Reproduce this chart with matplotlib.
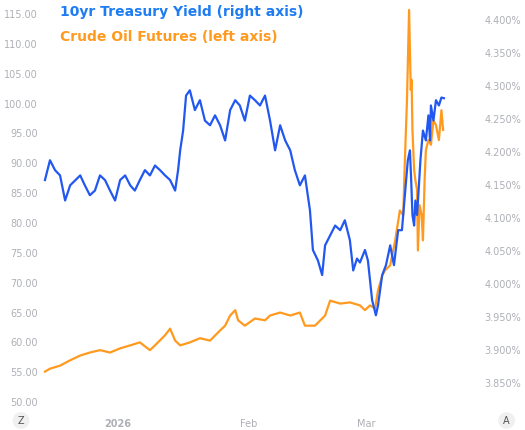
import numpy as np
from matplotlib import pyplot as plt
from matplotlib.ticker import FuncFormatter

# days counted from 2026-01-01
yield_days = [-17.4, -16.2, -15.0, -13.8, -12.6, -11.4, -9.0, -7.9, -6.7, -5.5, -4.3, -3.1, -1.9, -0.7,
              0.5, 1.7, 2.9, 4.0, 5.2, 6.4, 7.6, 8.8, 10.0, 11.2, 12.4, 13.6, 14.3, 14.8, 15.5, 16.2,
              17.1, 18.3, 19.5, 20.7, 21.9, 23.1, 24.3, 25.5, 26.7, 27.9, 29.0, 30.2, 31.4, 32.6, 33.8,
              35.0, 36.2, 37.4, 38.6, 39.8, 41.0, 42.1, 43.3, 44.5, 45.7, 46.4, 47.6, 48.6, 49.3, 50.5,
              51.7, 52.9, 54.0, 55.2, 56.0, 56.9, 57.6, 58.8, 59.5, 60.5, 61.4, 61.9, 62.9, 63.8, 64.8,
              65.7, 66.7, 67.6, 68.3, 69.0, 69.5, 69.8, 70.1, 70.5, 70.8, 71.2, 71.5, 72.0, 72.6, 73.3,
              73.9, 74.3, 74.5, 75.1, 75.7, 76.4, 77.0, 77.6]
yield_vals = [4.158, 4.188, 4.173, 4.165, 4.127, 4.150, 4.165, 4.150, 4.135, 4.142, 4.165, 4.158, 4.142,
              4.127, 4.158, 4.165, 4.150, 4.142, 4.158, 4.173, 4.165, 4.180, 4.173, 4.165, 4.158, 4.142,
              4.173, 4.203, 4.233, 4.286, 4.294, 4.264, 4.279, 4.248, 4.241, 4.256, 4.241, 4.218, 4.264,
              4.279, 4.271, 4.248, 4.286, 4.279, 4.271, 4.286, 4.248, 4.203, 4.241, 4.218, 4.203, 4.173,
              4.150, 4.165, 4.112, 4.052, 4.036, 4.014, 4.059, 4.074, 4.089, 4.082, 4.097, 4.067, 4.021,
              4.039, 4.033, 4.052, 4.036, 3.976, 3.953, 3.968, 4.014, 4.029, 4.059, 4.029, 4.082, 4.082,
              4.135, 4.188, 4.203, 4.158, 4.105, 4.089, 4.127, 4.105, 4.135, 4.188, 4.233, 4.218, 4.256,
              4.218, 4.271, 4.248, 4.279, 4.271, 4.283, 4.282]

oil_days = [-17.4, -16.2, -13.8, -11.4, -9.0, -6.7, -4.3, -1.9, 0.5, 2.9, 5.2, 7.6, 8.8, 11.2, 12.4,
            13.6, 14.8, 17.1, 19.5, 21.9, 24.3, 25.5, 26.7, 27.9, 28.6, 30.2, 31.4, 32.6, 35.0, 36.2,
            38.6, 41.0, 43.3, 44.5, 46.9, 49.3, 50.5, 52.9, 55.2, 57.6, 58.8, 60.0, 61.2, 61.9, 62.9,
            63.6, 64.8, 66.0, 67.1, 67.9, 68.3, 68.8, 69.3, 69.7, 69.9, 70.1, 70.5, 70.8, 71.2, 71.4,
            71.8, 72.3, 72.6, 73.0, 73.3, 73.9, 74.5, 75.1, 75.7, 76.4, 77.0, 77.4]
oil_vals = [55.1, 55.6, 56.1, 57.0, 57.8, 58.3, 58.7, 58.3, 59.0, 59.5, 60.0, 58.7, 59.5, 61.2, 62.3,
            60.3, 59.5, 60.0, 60.7, 60.3, 62.0, 62.8, 64.5, 65.4, 63.7, 62.8, 63.4, 64.0, 63.7, 64.5,
            65.0, 64.5, 65.0, 62.8, 62.8, 64.5, 67.0, 66.5, 66.7, 66.2, 65.4, 66.2, 65.7, 68.7, 71.2,
            72.1, 72.9, 77.1, 82.1, 81.3, 90.5, 100.6, 115.7, 102.3, 104.0, 95.6, 88.9, 87.2, 85.5, 75.4,
            83.0, 81.3, 77.1, 87.2, 92.2, 93.9, 93.1, 97.2, 96.4, 93.9, 98.9, 95.6]

left_ticks = [50, 55, 60, 65, 70, 75, 80, 85, 90, 95, 100, 105, 110, 115]
right_ticks = [3.85, 3.90, 3.95, 4.00, 4.05, 4.10, 4.15, 4.20, 4.25, 4.30, 4.35, 4.40]

base = np.datetime64("2026-01-01T00:00")
def to_dates(days):
    return base + (np.array(days) * 24 * 60).astype("timedelta64[m]")

blue = "#2258f0"
orange = "#ff9a1f"
grey = "#aeb0b6"

fig = plt.figure(figsize=(5.25, 4.3), dpi=100)
ax = fig.add_axes([0.08, 0.058, 0.80, 0.93])
ax2 = ax.twinx()

ax.plot(to_dates(oil_days), oil_vals, color=orange, lw=1.6, zorder=2)
ax2.plot(to_dates(yield_days), yield_vals, color=blue, lw=1.6, zorder=3)

ax.set_xlim(to_dates([-18.1])[0], to_dates([81.9])[0])
ax.set_ylim(49.5, 116.5)
ax2.set_ylim(3.817, 4.423)
ax.set_yticks(left_ticks)
ax2.set_yticks(right_ticks)
ax.yaxis.set_major_formatter(FuncFormatter(lambda v, p: f"{v:.2f}"))
ax2.yaxis.set_major_formatter(FuncFormatter(lambda v, p: f"{v:.3f}%"))

ax.set_xticks(to_dates([0, 31, 59]))
ax.set_xticklabels(["2026", "Feb", "Mar"])
ax.get_xticklabels()[0].set_fontweight("bold")
ax.get_xticklabels()[0].set_color("#999999")

for a in (ax, ax2):
    for s in a.spines.values():
        s.set_visible(False)
    a.tick_params(length=0, labelsize=7, colors=grey)
ax.tick_params(axis="y", pad=3)
ax2.tick_params(axis="y", pad=16)
ax.tick_params(axis="x", pad=10)

fig.text(0.115, 0.962, "10yr Treasury Yield (right axis)", color="#1e7cf2", fontsize=10, fontweight="bold")
fig.text(0.115, 0.905, "Crude Oil Futures (left axis)", color="#ff9a1f", fontsize=10, fontweight="bold")

for x, t in [(0.04, "Z"), (0.965, "A")]:
    fig.text(x, 0.022, t, fontsize=7, color="#555555", ha="center", va="center",
             bbox=dict(boxstyle="circle,pad=0.35", fc="#f0f0f0", ec="none"))

plt.savefig("out.png", dpi=100)
